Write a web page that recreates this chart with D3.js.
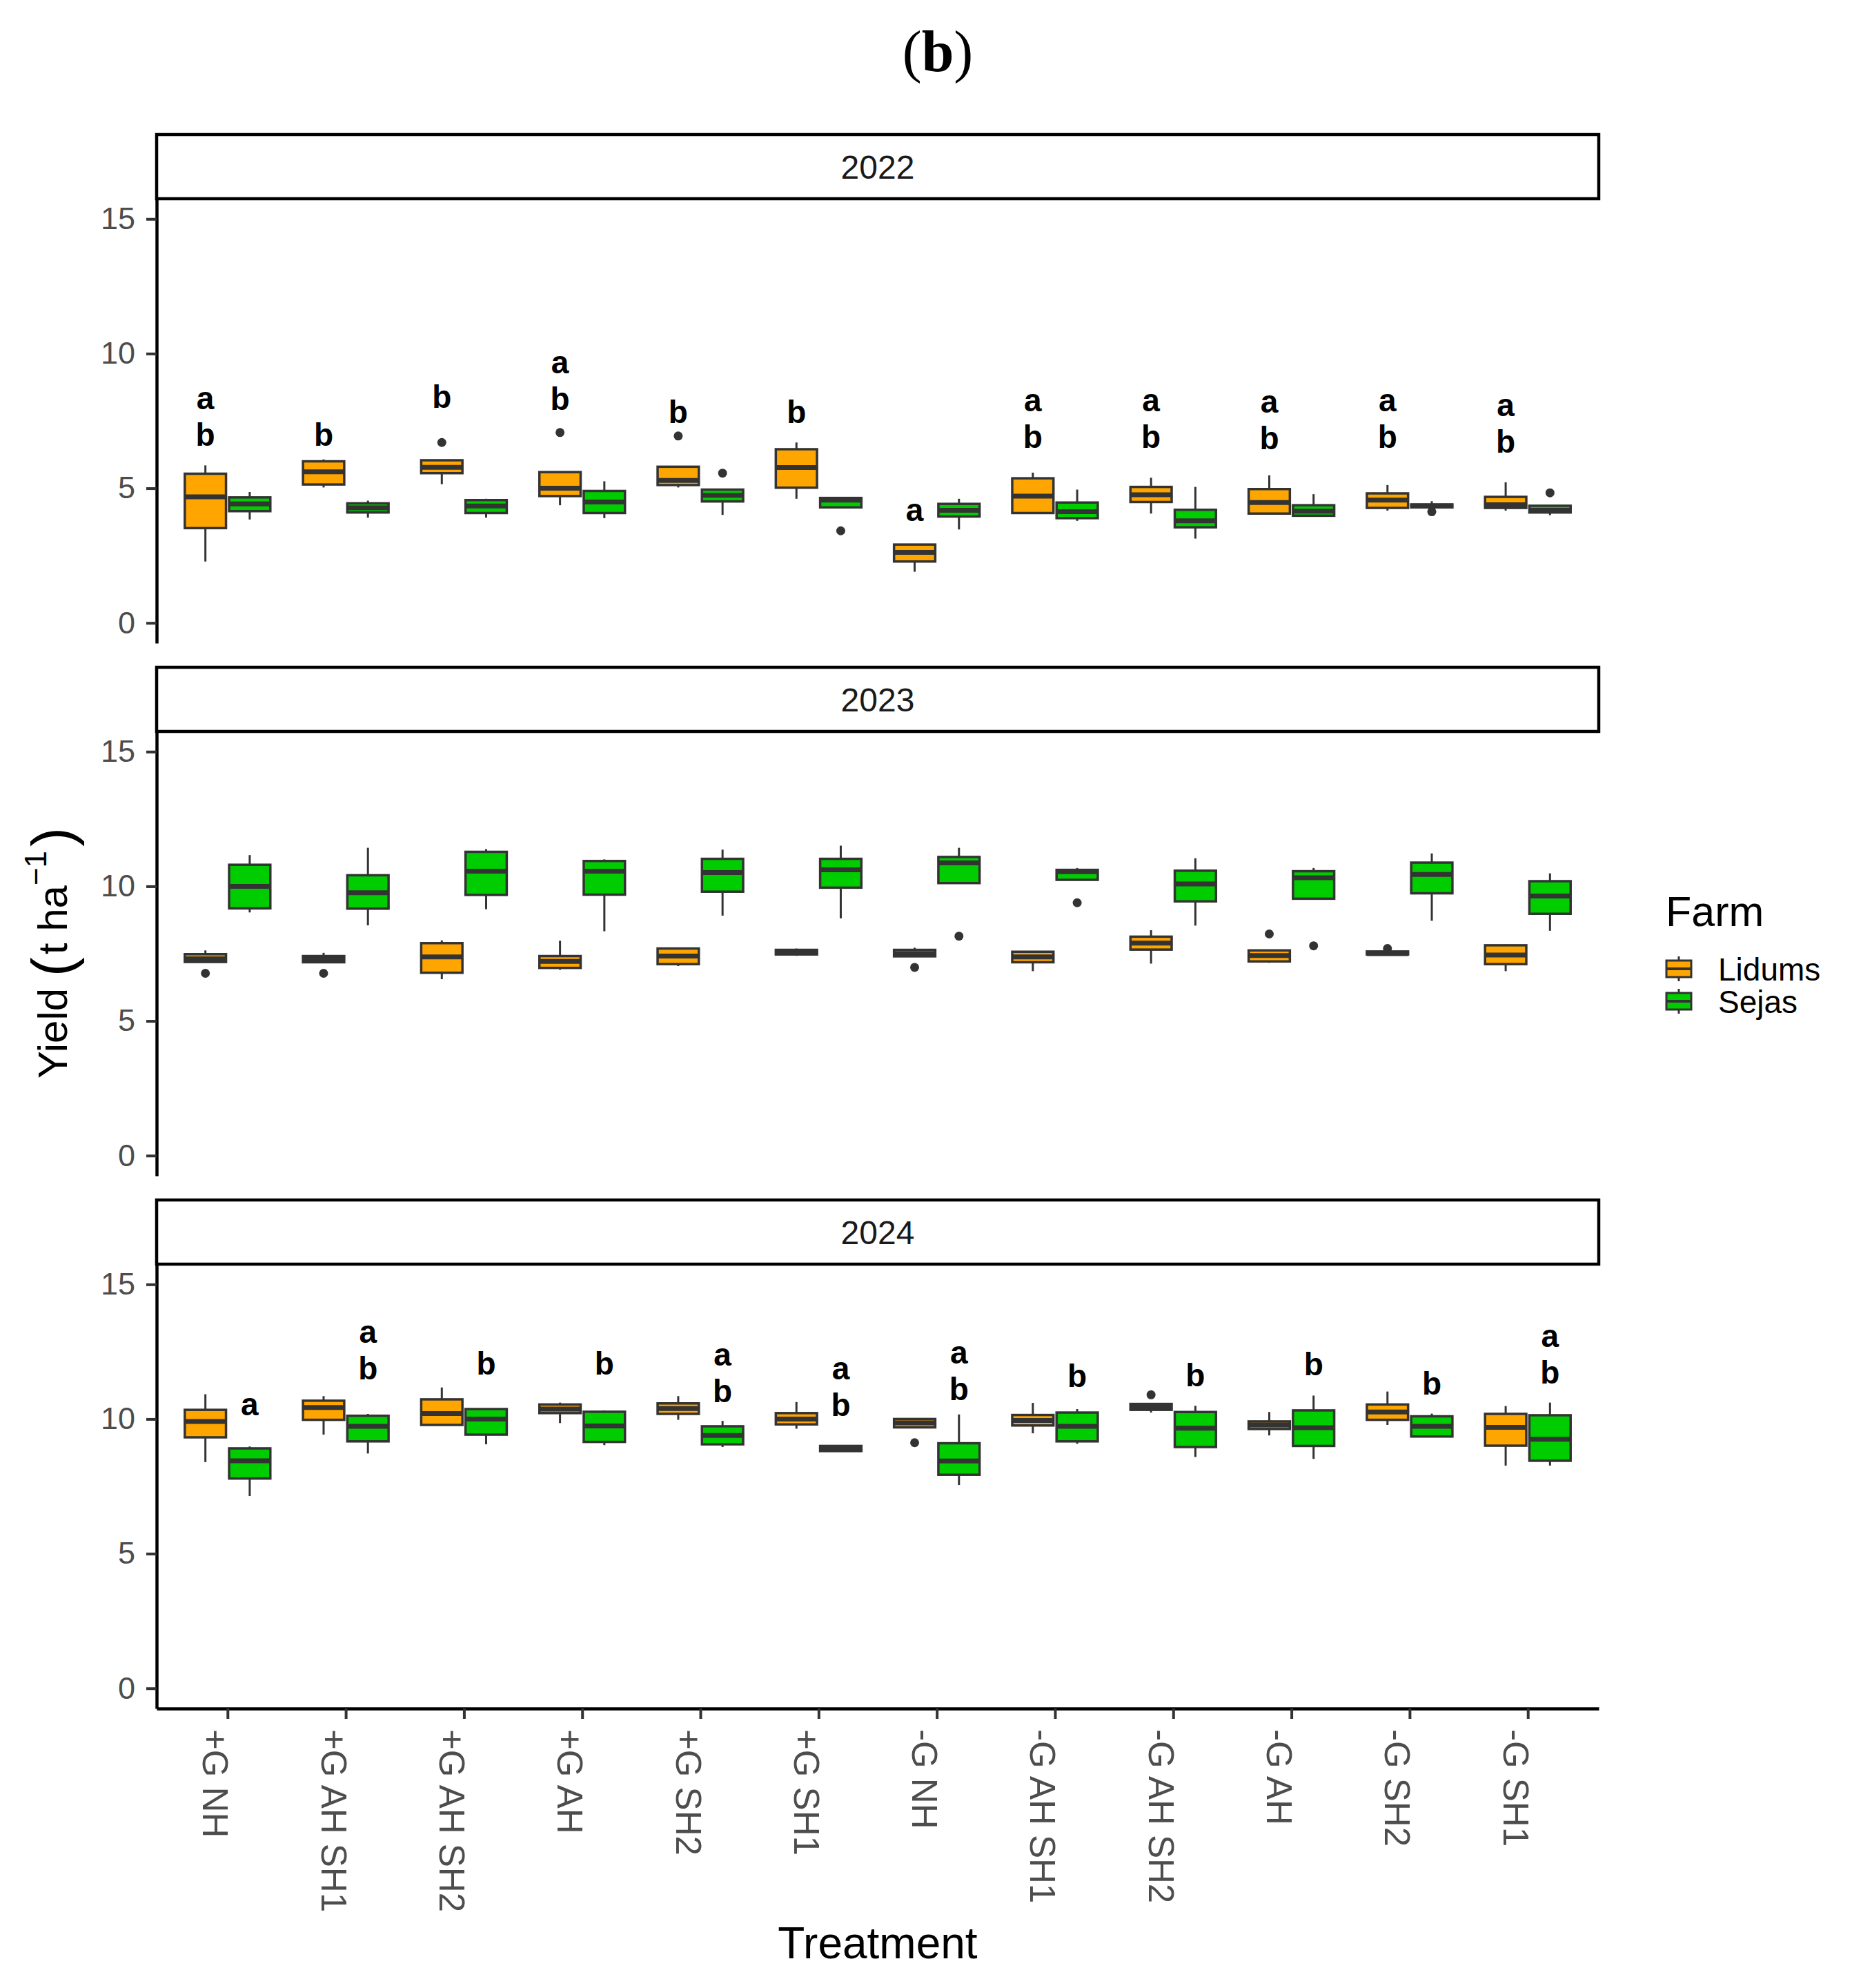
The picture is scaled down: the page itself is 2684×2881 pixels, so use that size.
<!DOCTYPE html>
<html>
<head>
<meta charset="utf-8">
<script src="https://cdn.jsdelivr.net/npm/d3@7"></script>
<style>
  html, body { margin: 0; padding: 0; background: #ffffff; }
  svg { display: block; }
</style>
</head>
<body>
<script>
// ---------------- DATA ----------------
const treatments = ["+G NH","+G AH SH1","+G AH SH2","+G AH","+G SH2","+G SH1","-G NH","-G AH SH1","-G AH SH2","-G AH","-G SH2","-G SH1"];
const years = ["2022","2023","2024"];
const farms = ["Lidums","Sejas"];
const farmColors = ["#FFA500","#00CD00"];
const yTicks = [0,5,10,15];

// box stats per treatment: [lower whisker, Q1, median, Q3, upper whisker]
const lidums2022 = [[2.28,3.52,4.68,5.54,5.85],[5.03,5.14,5.61,6.00,6.07],[5.15,5.56,5.78,6.04,6.04],[4.37,4.71,5.00,5.60,5.60],[5.03,5.12,5.29,5.80,5.80],[4.61,5.02,5.77,6.45,6.70],[1.90,2.28,2.62,2.91,2.91],[4.08,4.08,4.71,5.37,5.58],[4.06,4.49,4.76,5.05,5.39],[4.06,4.06,4.47,4.97,5.48],[4.17,4.27,4.56,4.81,5.12],[4.17,4.27,4.39,4.68,5.22]];
const sejas2022 = [[3.84,4.15,4.42,4.66,4.86],[3.91,4.10,4.27,4.44,4.54],[3.91,4.08,4.34,4.56,4.61],[3.89,4.08,4.49,4.90,5.26],[4.01,4.51,4.74,4.95,4.95],[4.29,4.29,4.56,4.64,4.66],[3.47,3.95,4.18,4.42,4.61],[3.79,3.89,4.13,4.47,4.95],[3.13,3.55,3.79,4.20,5.05],[3.98,3.98,4.15,4.37,4.78],[4.29,4.29,4.34,4.40,4.52],[4.00,4.10,4.18,4.35,4.35]];
const lidums2023 = [[7.19,7.19,7.31,7.48,7.62],[7.18,7.18,7.30,7.41,7.53],[6.55,6.79,7.38,7.89,7.99],[6.90,6.97,7.21,7.41,7.98],[7.04,7.11,7.41,7.69,7.72],[7.42,7.47,7.55,7.64,7.69],[7.40,7.40,7.50,7.64,7.72],[6.85,7.18,7.38,7.57,7.60],[7.13,7.65,7.89,8.13,8.37],[7.16,7.21,7.43,7.62,7.62],[7.47,7.47,7.50,7.58,7.58],[6.85,7.11,7.45,7.81,7.84]];
const sejas2023 = [[9.03,9.18,10.00,10.80,11.16],[8.55,9.17,9.76,10.41,11.43],[9.15,9.68,10.56,11.28,11.38],[8.33,9.69,10.56,10.94,11.00],[8.91,9.80,10.51,11.02,11.36],[8.81,9.95,10.61,11.02,11.51],[10.12,10.12,10.87,11.09,11.43],[10.24,10.24,10.54,10.61,10.68],[8.54,9.44,10.09,10.58,11.04],[9.54,9.54,10.32,10.56,10.68],[8.72,9.74,10.44,10.88,11.22],[8.35,8.98,9.64,10.19,10.48]];
const lidums2024 = [[8.40,9.32,9.91,10.34,10.92],[9.42,9.97,10.43,10.68,10.85],[9.78,9.78,10.20,10.73,11.17],[9.85,10.22,10.37,10.54,10.61],[9.97,10.19,10.39,10.58,10.85],[9.64,9.80,10.00,10.22,10.63],[9.69,9.69,9.86,10.00,10.00],[9.47,9.76,9.95,10.15,10.60],[10.24,10.34,10.46,10.56,10.60],[9.39,9.63,9.78,9.91,10.26],[9.78,9.97,10.26,10.54,11.02],[8.27,9.01,9.69,10.19,10.48]];
const sejas2024 = [[7.14,7.79,8.45,8.91,8.98],[8.72,9.17,9.73,10.12,10.19],[9.06,9.42,10.00,10.37,10.37],[9.03,9.15,9.74,10.27,10.32],[8.96,9.06,9.39,9.73,9.93],[8.81,8.81,8.91,9.00,9.00],[7.55,7.93,8.44,9.10,10.17],[9.08,9.17,9.73,10.24,10.37],[8.59,8.96,9.66,10.26,10.49],[8.52,9.00,9.68,10.32,10.87],[9.35,9.35,9.73,10.10,10.20],[8.27,8.45,9.25,10.14,10.61]];

// outliers per treatment
const lidums2022Out = [[],[],[6.70],[7.07],[6.94],[],[],[],[],[],[],[]];
const sejas2022Out  = [[],[],[],[],[5.56],[3.42],[],[],[],[],[4.13],[4.83]];
const lidums2023Out = [[6.77],[6.77],[],[],[],[],[6.99],[],[],[8.23],[7.69],[]];
const sejas2023Out  = [[],[],[],[],[],[],[8.15],[9.39],[],[7.79],[],[]];
const lidums2024Out = [[],[],[],[],[],[],[9.12],[],[10.90],[],[],[]];
const sejas2024Out  = [[],[],[],[],[],[],[],[],[],[],[],[]];

// significance letters (stacked top to bottom) and the baseline value of the lowest letter
const letters2022 = ["ab","b","b","ab","b","b","a","ab","ab","ab","ab","ab"];
const letterY2022 = [6.58,6.58,7.99,7.91,7.43,7.43,3.79,6.51,6.51,6.45,6.51,6.33];
const letters2024 = ["a","ab","b","b","ab","ab","ab","b","b","b","b","ab"];
const letterY2024 = [10.14,11.48,11.65,11.65,10.63,10.12,10.71,11.19,11.22,11.62,10.92,11.31];

// ---------------- LAYOUT ----------------
const W = 2684, H = 2881;
const left = 227, right = 2317;
const panelTop0 = 288, panelPitch = 772, panelH = 644, stripH = 93;
const fontSans = "'Liberation Sans', Arial, sans-serif";

const panels = [
  {year: years[0], stats: [lidums2022, sejas2022], outs: [lidums2022Out, sejas2022Out], letters: letters2022, letterY: letterY2022, letterFarm: 0},
  {year: years[1], stats: [lidums2023, sejas2023], outs: [lidums2023Out, sejas2023Out], letters: null, letterY: null, letterFarm: 0},
  {year: years[2], stats: [lidums2024, sejas2024], outs: [lidums2024Out, sejas2024Out], letters: letters2024, letterY: letterY2024, letterFarm: 1}
];

const svg = d3.select("body").append("svg").attr("width", W).attr("height", H)
  .attr("viewBox", `0 0 ${W} ${H}`);
svg.append("rect").attr("width", W).attr("height", H).attr("fill", "#ffffff");

const x = d3.scalePoint().domain(treatments).range([left, right]).padding(0.6);
const step = x.step();
const dodge = d3.scaleBand().domain(farms).range([-0.375 * step, 0.375 * step]);
const boxW = dodge.bandwidth() * 0.93;

// Title
const title = svg.append("text").attr("x", 1359).attr("y", 103).attr("text-anchor", "middle")
  .style("font-family", "'Liberation Serif', 'Times New Roman', serif").style("font-size", "84px").attr("fill", "#000");
title.append("tspan").text("(");
title.append("tspan").style("font-weight", "bold").text("b");
title.append("tspan").text(")");

panels.forEach((p, pi) => {
  const top = panelTop0 + pi * panelPitch;
  const bottom = top + panelH;
  const y = d3.scaleLinear().domain([-0.75, 15.75]).range([bottom, top]);
  const g = svg.append("g");

  // strip
  g.append("rect").attr("x", left).attr("y", top - stripH).attr("width", right - left).attr("height", stripH)
    .attr("fill", "#ffffff").attr("stroke", "#000").attr("stroke-width", 4.5);
  g.append("text").attr("x", (left + right) / 2).attr("y", top - stripH / 2 + 17)
    .attr("text-anchor", "middle").style("font-family", fontSans).style("font-size", "48px")
    .attr("fill", "#1A1A1A").text(p.year);

  // y axis
  const ya = g.append("g").attr("transform", `translate(${left},0)`)
    .call(d3.axisLeft(y).tickValues(yTicks).tickSize(15).tickSizeOuter(0).tickPadding(16));
  ya.select(".domain").attr("stroke", "#000").attr("stroke-width", 4.5);
  ya.selectAll(".tick line").attr("stroke", "#333333").attr("stroke-width", 4);
  ya.selectAll(".tick text").style("font-family", fontSans).style("font-size", "45px").attr("fill", "#4D4D4D");

  // boxes
  farms.forEach((f, fi) => {
    const col = farmColors[fi];
    p.stats[fi].forEach((s, ti) => {
      const cx = x(treatments[ti]) + dodge(f) + dodge.bandwidth() / 2;
      const bg = g.append("g");
      bg.append("line").attr("x1", cx).attr("x2", cx).attr("y1", y(s[3])).attr("y2", y(s[4]))
        .attr("stroke", "#333333").attr("stroke-width", 3);
      bg.append("line").attr("x1", cx).attr("x2", cx).attr("y1", y(s[1])).attr("y2", y(s[0]))
        .attr("stroke", "#333333").attr("stroke-width", 3);
      bg.append("rect").attr("x", cx - boxW / 2).attr("width", boxW)
        .attr("y", y(s[3])).attr("height", Math.max(0.5, y(s[1]) - y(s[3])))
        .attr("fill", col).attr("stroke", "#333333").attr("stroke-width", 3.5);
      bg.append("line").attr("x1", cx - boxW / 2).attr("x2", cx + boxW / 2).attr("y1", y(s[2])).attr("y2", y(s[2]))
        .attr("stroke", "#333333").attr("stroke-width", 7);
      p.outs[fi][ti].forEach(o => {
        bg.append("circle").attr("cx", cx).attr("cy", y(o)).attr("r", 6.5).attr("fill", "#333333");
      });
    });
  });

  // letters
  if (p.letters) {
    p.letters.forEach((lab, ti) => {
      const cx = x(treatments[ti]) + dodge(farms[p.letterFarm]) + dodge.bandwidth() / 2;
      const chars = lab.split("");
      const n = chars.length;
      chars.forEach((c, k) => {
        g.append("text").attr("x", cx).attr("y", y(p.letterY[ti]) - (n - 1 - k) * 53)
          .attr("text-anchor", "middle").style("font-family", fontSans).style("font-size", "46px")
          .style("font-weight", "bold").attr("fill", "#000").text(c);
      });
    });
  }

  // x axis on the last panel
  if (pi === panels.length - 1) {
    const xa = g.append("g").attr("transform", `translate(0,${bottom})`)
      .call(d3.axisBottom(x).tickSize(15).tickSizeOuter(0));
    xa.select(".domain").attr("stroke", "#000").attr("stroke-width", 4.5);
    xa.selectAll(".tick line").attr("stroke", "#333333").attr("stroke-width", 4);
    xa.selectAll(".tick text")
      .attr("transform", "translate(-36,30) rotate(90)")
      .attr("x", 0).attr("y", 0).attr("dy", 0)
      .attr("text-anchor", "start")
      .style("font-family", fontSans).style("font-size", "51px").attr("fill", "#4D4D4D");
  }
});

// Axis titles
svg.append("text").attr("x", (left + right) / 2).attr("y", 2838).attr("text-anchor", "middle")
  .style("font-family", fontSans).style("font-size", "64px").attr("fill", "#000").text("Treatment");

const yt = svg.append("text").attr("transform", "translate(97,1381) rotate(-90)").attr("text-anchor", "middle")
  .style("font-family", fontSans).style("font-size", "60px").attr("fill", "#000");
yt.append("tspan").text("Yield ");
yt.append("tspan").style("font-size", "84px").attr("dy", 8).text("(");
yt.append("tspan").attr("dy", -8).attr("dx", 4).text("t ha");
yt.append("tspan").style("font-size", "44px").attr("dy", -30).text("\u22121");
yt.append("tspan").style("font-size", "84px").attr("dy", 38).attr("dx", 6).text(")");

// Legend
const lg = svg.append("g");
lg.append("text").attr("x", 2414).attr("y", 1342).style("font-family", fontSans).style("font-size", "61px")
  .attr("fill", "#000").text("Farm");
farms.forEach((f, i) => {
  const cy = 1404 + i * 47;
  const kx = 2433;
  lg.append("line").attr("x1", kx).attr("x2", kx).attr("y1", cy - 18).attr("y2", cy + 18)
    .attr("stroke", "#333333").attr("stroke-width", 3);
  lg.append("rect").attr("x", kx - 18).attr("y", cy - 12).attr("width", 36).attr("height", 24)
    .attr("fill", farmColors[i]).attr("stroke", "#333333").attr("stroke-width", 3);
  lg.append("line").attr("x1", kx - 18).attr("x2", kx + 18).attr("y1", cy).attr("y2", cy)
    .attr("stroke", "#333333").attr("stroke-width", 4);
  lg.append("text").attr("x", 2490).attr("y", cy + 17).style("font-family", fontSans).style("font-size", "46px")
    .attr("fill", "#000").text(f);
});
</script>
</body>
</html>
